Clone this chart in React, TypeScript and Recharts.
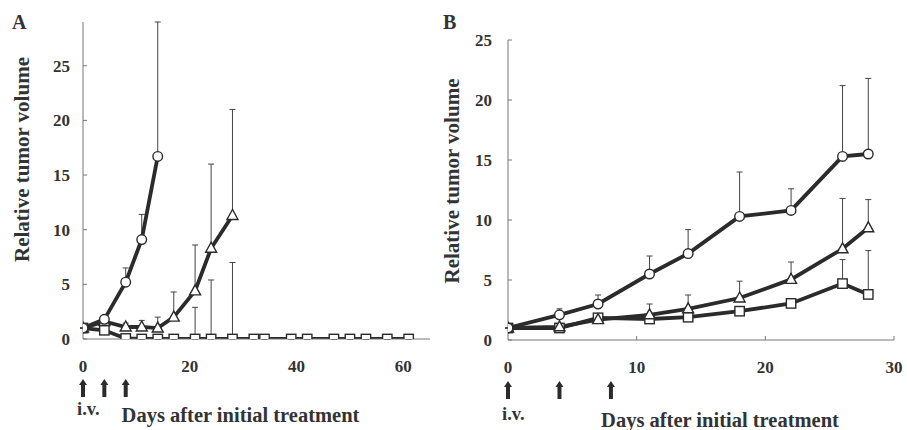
import React from 'react';
import { LineChart, Line, XAxis, YAxis, ErrorBar, Label } from 'recharts';

const FONT = '"Liberation Serif", "Times New Roman", serif';
const INK = '#2b2b2b';
const AXIS = '#777';

// ---------- Panel A ----------
const aCircleDays = [0, 4, 8, 11, 14];
const aCircleMean = [1.0, 1.8, 5.2, 9.1, 16.7];
const aCircleUpper = [1.0, 1.8, 6.5, 11.4, 29];

const aTriDays = [0, 4, 8, 11, 14, 17, 21, 24, 28];
const aTriMean = [1.0, 1.6, 1.1, 1.1, 1.0, 2.0, 4.4, 8.3, 11.3];
const aTriUpper = [1.0, 1.6, 1.45, 1.7, 2.0, 4.3, 8.6, 16.0, 21.0];

const aSqDays = [0, 4, 8, 11, 14, 17, 21, 24, 28, 32, 34, 39, 42, 47, 50, 53, 57, 61];
const aSqMean = [1.0, 0.8, 0.05, 0, 0, 0, 0, 0, 0, 0, 0, 0, 0, 0, 0, 0, 0, 0];
const aSqUpper = [1.0, 0.8, 0.05, 0, 0, 0, 2.9, 5.4, 7.0, 0, 0, 0, 0, 0, 0, 0, 0, 0];

const aXTicks = [0, 20, 40, 60];
const aYTicks = [0, 5, 10, 15, 20, 25];
const aDoseDays = [0, 4, 8];

// ---------- Panel B ----------
const bDays = [0, 4, 7, 11, 14, 18, 22, 26, 28];
const bCircleMean = [1.0, 2.1, 3.0, 5.5, 7.2, 10.3, 10.8, 15.3, 15.5];
const bCircleUpper = [1.0, 2.6, 3.75, 7.0, 9.2, 14.0, 12.6, 21.2, 21.8];
const bTriMean = [1.0, 1.1, 1.7, 2.1, 2.6, 3.5, 5.05, 7.6, 9.35];
const bTriUpper = [1.0, 1.1, 1.7, 3.0, 3.75, 4.9, 6.5, 11.8, 11.7];
const bSqMean = [1.0, 1.0, 1.85, 1.75, 1.9, 2.4, 3.05, 4.7, 3.8];
const bSqUpper = [1.0, 1.0, 1.85, 1.75, 1.9, 2.4, 3.05, 6.7, 7.45];

const bXTicks = [0, 10, 20, 30];
const bYTicks = [0, 5, 10, 15, 20, 25];
const bDoseDays = [0, 4, 8];

const build = (days: number[], mean: number[], upper: number[]) =>
  days.map((d, i) => ({ day: d, v: mean[i], err: [0, Math.max(0, upper[i] - mean[i])] }));

const aCircle = build(aCircleDays, aCircleMean, aCircleUpper);
const aTri = build(aTriDays, aTriMean, aTriUpper);
const aSq = build(aSqDays, aSqMean, aSqUpper);
const bCircle = build(bDays, bCircleMean, bCircleUpper);
const bTri = build(bDays, bTriMean, bTriUpper);
const bSq = build(bDays, bSqMean, bSqUpper);

const CircleDot = (p: any) =>
  p.cx == null ? null : (
    <circle key={`c${p.index}`} cx={p.cx} cy={p.cy} r={4.8} fill="#fff" stroke={INK} strokeWidth={1.4} />
  );
const SquareDot = (p: any) =>
  p.cx == null ? null : (
    <rect key={`s${p.index}`} x={p.cx - 4.7} y={p.cy - 4.7} width={9.4} height={9.4} fill="#fff" stroke={INK} strokeWidth={1.4} />
  );
const TriDot = (p: any) =>
  p.cx == null ? null : (
    <polygon
      key={`t${p.index}`}
      points={`${p.cx},${p.cy - 6} ${p.cx - 5.5},${p.cy + 4} ${p.cx + 5.5},${p.cy + 4}`}
      fill="#fff"
      stroke={INK}
      strokeWidth={1.4}
    />
  );

const TXT = '#333';

// Custom x tick: numeric label (for label ticks), inward tick mark, dose arrows and "i.v."
const makeXTick = (labels: number[], doses: number[], showTickLine: boolean, arrowTop: number, ivBase: number) => (props: any) => {
  const { x, y, payload } = props;
  const v = payload.value;
  const t = y + arrowTop;
  const b = t + 18;
  return (
    <g>
      {showTickLine && labels.includes(v) && v !== 0 ? (
        <line x1={x} x2={x} y1={y} y2={y - 4} stroke={AXIS} strokeWidth={1} />
      ) : null}
      {labels.includes(v) ? (
        <text x={x} y={y + 27} textAnchor="middle" dominantBaseline="central" fontFamily={FONT} fontWeight={700} fontSize={17} fill={TXT}>
          {v}
        </text>
      ) : null}
      {doses.includes(v) ? (
        <path
          d={`M${x - 2},${b} L${x - 2},${t + 6} L${x - 4},${t + 6} L${x},${t} L${x + 4},${t + 6} L${x + 2},${t + 6} L${x + 2},${b} Z`}
          fill={INK}
        />
      ) : null}
      {v === 0 ? (
        <text x={x - 6} y={y + ivBase} fontFamily={FONT} fontWeight={700} fontSize={18.5} fill={TXT}>
          i.v.
        </text>
      ) : null}
    </g>
  );
};

const makeYLabel = (dx: number, dy: number) => (props: any) => {
  const vb = props.viewBox || {};
  const cx = vb.x + dx;
  const cy = vb.y + vb.height / 2 + dy;
  return (
    <text
      x={cx}
      y={cy}
      transform={`rotate(-90, ${cx}, ${cy})`}
      textAnchor="middle"
      dominantBaseline="central"
      fontFamily={FONT}
      fontWeight={700}
      fontSize={21}
      fill={TXT}
    >
      Relative tumor volume
    </text>
  );
};

const makeXLabel = (dx: number, base: number) => (props: any) => {
  const vb = props.viewBox || {};
  const cx = vb.x + vb.width / 2 + dx;
  return (
    <text x={cx} y={vb.y + base} textAnchor="middle" fontFamily={FONT} fontWeight={700} fontSize={20.5} fill={TXT}>
      Days after initial treatment
    </text>
  );
};

const yTickStyle = { fontFamily: FONT, fontWeight: 700, fontSize: 17, fill: TXT };

const series = (data: any[], Dot: any, key: string) => (
  <Line
    key={key}
    data={data}
    dataKey="v"
    type="linear"
    stroke={INK}
    strokeWidth={3.8}
    dot={Dot}
    activeDot={false}
    isAnimationActive={false}
  >
    <ErrorBar dataKey="err" direction="y" width={3} stroke="#444" strokeWidth={1} />
  </Line>
);

const uniq = (a: number[]) => Array.from(new Set(a)).sort((p, q) => p - q);

export default function App() {
  return (
    <div style={{ position: 'absolute', left: 0, top: 0, width: 907, height: 430, background: '#fff' }}>
      <div style={{ position: 'absolute', left: 12, top: 11, fontFamily: FONT, fontWeight: 700, fontSize: 20, color: TXT }}>A</div>
      <div style={{ position: 'absolute', left: 443, top: 11, fontFamily: FONT, fontWeight: 700, fontSize: 20, color: TXT }}>B</div>

      <div style={{ position: 'absolute', left: 0, top: 0 }}>
        <LineChart width={440} height={430} margin={{ top: 22, right: 10, bottom: 0, left: 0 }}>
          <XAxis
            type="number"
            dataKey="day"
            domain={[0, 65]}
            ticks={uniq([...aXTicks, ...aDoseDays])}
            interval={0}
            allowDataOverflow
            height={91}
            axisLine={{ stroke: AXIS, strokeWidth: 1 }}
            tickLine={false}
            tickSize={0}
            tickMargin={0}
            tick={makeXTick(aXTicks, aDoseDays, false, 40, 76)}
          >
            <Label content={makeXLabel(-16, 83)} />
          </XAxis>
          <YAxis
            type="number"
            domain={[0, 29]}
            ticks={aYTicks}
            allowDataOverflow
            width={83}
            axisLine={{ stroke: AXIS, strokeWidth: 1 }}
            tickLine={{ stroke: AXIS }}
            tickSize={-4}
            tickMargin={17}
            tick={yTickStyle}
          >
            <Label content={makeYLabel(22, -21)} />
          </YAxis>
          {series(aSq, SquareDot, 'asq')}
          {series(aTri, TriDot, 'atri')}
          {series(aCircle, CircleDot, 'acirc')}
        </LineChart>
      </div>

      <div style={{ position: 'absolute', left: 440, top: 0 }}>
        <LineChart width={467} height={430} margin={{ top: 40, right: 13, bottom: 0, left: 0 }}>
          <XAxis
            type="number"
            dataKey="day"
            domain={[0, 30]}
            ticks={uniq([...bXTicks, ...bDoseDays])}
            interval={0}
            allowDataOverflow
            height={90}
            axisLine={{ stroke: AXIS, strokeWidth: 1 }}
            tickLine={false}
            tickSize={0}
            tickMargin={0}
            tick={makeXTick(bXTicks, bDoseDays, true, 41, 80)}
          >
            <Label content={makeXLabel(19, 87)} />
          </XAxis>
          <YAxis
            type="number"
            domain={[0, 25]}
            ticks={bYTicks}
            allowDataOverflow
            width={68}
            axisLine={{ stroke: AXIS, strokeWidth: 1 }}
            tickLine={{ stroke: AXIS }}
            tickSize={-4}
            tickMargin={20}
            tick={yTickStyle}
          >
            <Label content={makeYLabel(12, -9)} />
          </YAxis>
          {series(bSq, SquareDot, 'bsq')}
          {series(bTri, TriDot, 'btri')}
          {series(bCircle, CircleDot, 'bcirc')}
        </LineChart>
      </div>
    </div>
  );
}
